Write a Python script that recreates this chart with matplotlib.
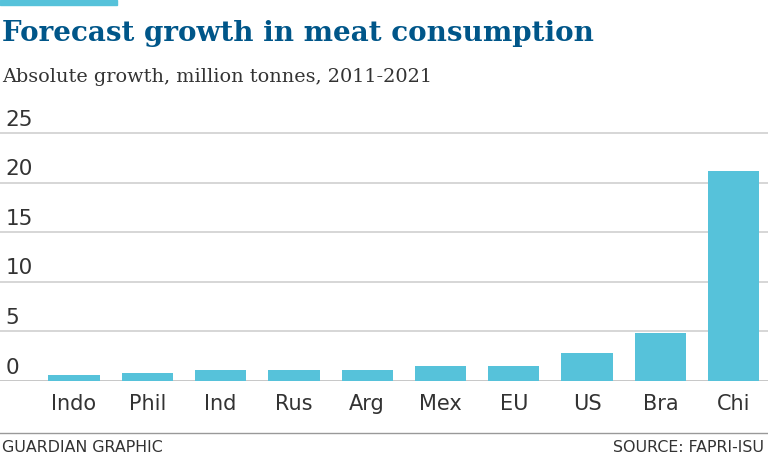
import matplotlib
matplotlib.use("Agg")
import matplotlib.pyplot as plt
from matplotlib.patches import Rectangle
from matplotlib.lines import Line2D

# data
countries = ["Indo", "Phil", "Ind", "Rus", "Arg", "Mex", "EU", "US", "Bra", "Chi"]
growth = [0.58, 0.84, 1.08, 1.08, 1.08, 1.55, 1.55, 2.8, 4.8, 21.2]
yticks = [0, 5, 10, 15, 20, 25]

title = "Forecast growth in meat consumption"
subtitle = "Absolute growth, million tonnes, 2011-2021"
credit = "GUARDIAN GRAPHIC"
source = "SOURCE: FAPRI-ISU"

bar_color = "#56c2da"
title_color = "#005689"
text_color = "#333333"
sans = ["Liberation Sans Narrow", "DejaVu Sans"]

W, H = 768, 461
fig = plt.figure(figsize=(W / 100, H / 100), dpi=100)

# axes: zero line at y=381px, 25 gridline at y=133px
y0, ytop_val = 381, 25.3
px_per_unit = (381 - 133) / 25
top_px = y0 - ytop_val * px_per_unit
ax = fig.add_axes([0, (H - y0) / H, 1, (y0 - top_px) / H])
ax.set_ylim(0, ytop_val)
spacing = 73.3
ax.set_xlim(-74 / spacing, (W - 74) / spacing)

for v in yticks:
    ax.axhline(v, color="#cfcfcf" if v else "#bdbdbd", lw=1.2, zorder=1)
    ax.text(0.007, v + 0.35, str(v), transform=ax.get_yaxis_transform(),
            ha="left", va="bottom", fontsize=15.5, color=text_color, family=sans)

ax.bar(range(len(countries)), growth, width=0.7, color=bar_color, zorder=2)
ax.set_xticks(range(len(countries)))
ax.set_xticklabels(countries, family=sans, fontsize=15, color=text_color)
ax.tick_params(axis="x", length=0, pad=9)
ax.set_yticks([])
for s in ax.spines.values():
    s.set_visible(False)

# header
fig.patches.append(Rectangle((0, 1 - 5 / H), 117 / W, 5 / H, transform=fig.transFigure,
                             color=bar_color))
fig.text(2 / W, 1 - 33 / H, title, fontsize=20, fontweight="bold", family="DejaVu Serif",
         color=title_color, ha="left", va="center")
fig.text(2 / W, 1 - 77 / H, subtitle, fontsize=13.9, family="DejaVu Serif",
         color=text_color, ha="left", va="center")

# footer
fig.lines.append(Line2D([0, 1], [1 - 433 / H] * 2, transform=fig.transFigure,
                        color="#999999", lw=1))
fig.text(2 / W, 1 - 447 / H, credit, fontsize=11.4, family=sans,
         color=text_color, ha="left", va="center")
fig.text(764 / W, 1 - 447 / H, source, fontsize=11.4, family=sans,
         color=text_color, ha="right", va="center")

fig.savefig("out.png", dpi=100)
